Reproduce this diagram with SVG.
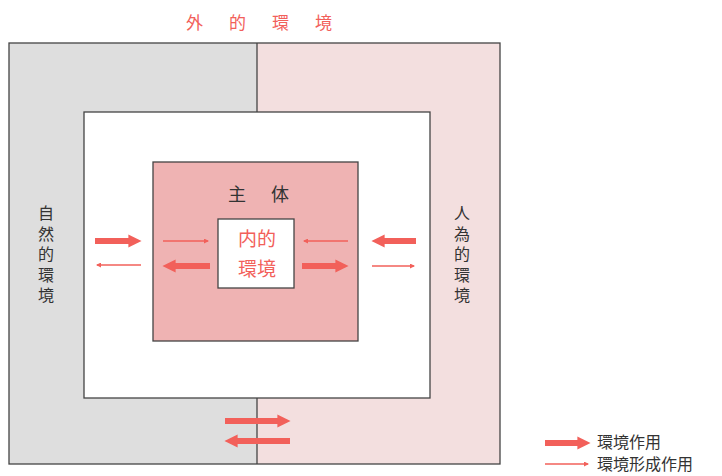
<svg xmlns="http://www.w3.org/2000/svg" width="722" height="476" viewBox="0 0 722 476">
<style>
.box{stroke:#444;stroke-width:1.3}
.red{fill:#f2605a;font-family:"Noto Sans CJK JP","Noto Sans CJK SC",sans-serif}
.blk{fill:#333;font-family:"Noto Sans CJK JP","Noto Sans CJK SC",sans-serif}
.thick{stroke:#f2605a;stroke-width:6;fill:none}
.thin{stroke:#f2605a;stroke-width:1.3;fill:none}
.hd{fill:#f2605a}
</style>
<defs>
<marker id="hk" viewBox="0 0 10 10" refX="2" refY="5" markerWidth="2.2" markerHeight="2.2" orient="auto"><path d="M0,0L10,5L0,10z" class="hd"/></marker>
<marker id="hn" viewBox="0 0 10 10" refX="8" refY="5" markerWidth="7" markerHeight="5" orient="auto" markerUnits="userSpaceOnUse"><path d="M0,0L10,5L0,10z" class="hd"/></marker>
</defs>
<rect width="722" height="476" fill="#fff"/>
<g id="outer">
<rect x="9" y="43" width="248" height="421" fill="#dedede"/>
<rect x="257" y="43" width="243" height="421" fill="#f3dfdf"/>
<rect x="9" y="43" width="491" height="421" fill="none" class="box"/>
<line x1="257" y1="43" x2="257" y2="464" class="box"/>
<text x="186" y="29" class="red" font-size="17" letter-spacing="26">外的環境</text>
</g>
<g id="natural">
<text class="blk" font-size="16" text-anchor="middle"><tspan x="46" y="219">自</tspan><tspan x="46" y="239.5">然</tspan><tspan x="46" y="260">的</tspan><tspan x="46" y="280.5">環</tspan><tspan x="46" y="301">境</tspan></text>
</g>
<g id="artificial">
<text class="blk" font-size="16" text-anchor="middle"><tspan x="462" y="219">人</tspan><tspan x="462" y="239.5">為</tspan><tspan x="462" y="260">的</tspan><tspan x="462" y="280.5">環</tspan><tspan x="462" y="301">境</tspan></text>
</g>
<g id="middle">
<rect x="84" y="112" width="346" height="286" fill="#fff" class="box"/>
</g>
<g id="subject">
<rect x="153" y="162" width="205" height="179" fill="#efb3b3" class="box"/>
<text x="228" y="201" class="blk" font-size="18" letter-spacing="25">主体</text>
</g>
<g id="inner">
<rect x="218" y="219" width="76" height="69" fill="#fff" class="box"/>
<text x="257" y="246" class="red" font-size="19" text-anchor="middle">内的</text>
<text x="257" y="276" class="red" font-size="19" text-anchor="middle">環境</text>
</g>
<g id="connectors">
<line x1="95" y1="241" x2="131" y2="241" class="thick" marker-end="url(#hk)"/>
<line x1="141" y1="265" x2="97" y2="265" class="thin" marker-end="url(#hn)"/>
<line x1="163" y1="241" x2="208" y2="241" class="thin" marker-end="url(#hn)"/>
<line x1="210" y1="266" x2="173" y2="266" class="thick" marker-end="url(#hk)"/>
<line x1="348" y1="241" x2="304" y2="241" class="thin" marker-end="url(#hn)"/>
<line x1="302" y1="266" x2="338" y2="266" class="thick" marker-end="url(#hk)"/>
<line x1="416" y1="241" x2="382" y2="241" class="thick" marker-end="url(#hk)"/>
<line x1="372" y1="266" x2="414" y2="266" class="thin" marker-end="url(#hn)"/>
<line x1="225" y1="421" x2="280" y2="421" class="thick" marker-end="url(#hk)"/>
<line x1="290" y1="441" x2="235" y2="441" class="thick" marker-end="url(#hk)"/>
</g>
<g id="legend">
<line x1="545" y1="443" x2="580" y2="443" class="thick" marker-end="url(#hk)"/>
<line x1="545" y1="464" x2="588" y2="464" class="thin" marker-end="url(#hn)"/>
<text x="597" y="448" class="blk" font-size="16">環境作用</text>
<text x="597" y="470" class="blk" font-size="16">環境形成作用</text>
</g>
</svg>
